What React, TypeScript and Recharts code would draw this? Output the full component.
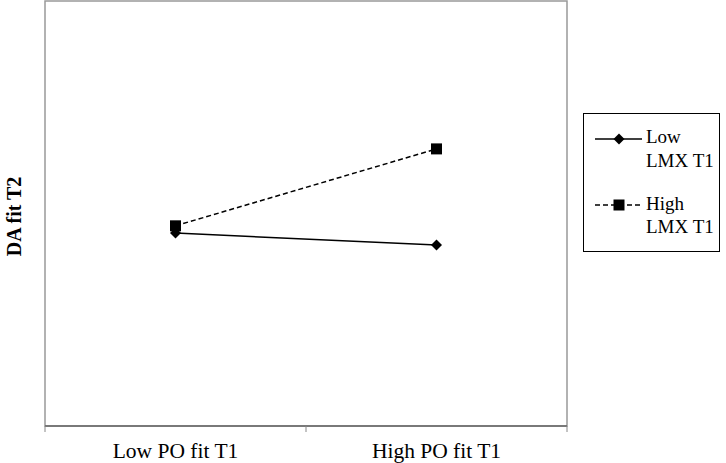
import { LineChart, Line, XAxis, YAxis, ReferenceArea } from "recharts";

const categories = ["Low PO fit T1", "High PO fit T1"];
const lowLmx = [45.4, 42.6];
const highLmx = [47.1, 65.2];
const seriesNames = { low: ["Low", "LMX T1"], high: ["High", "LMX T1"] };

const data = categories.map((c, i) => ({
  x: i + 0.5,
  name: c,
  low: lowLmx[i],
  high: highLmx[i],
}));

const FONT = '"Liberation Serif", "Times New Roman", serif';

const Diamond = ({ cx, cy }: any) =>
  cx == null ? null : (
    <path d={`M${cx},${cy - 5.5} L${cx + 5.5},${cy} L${cx},${cy + 5.5} L${cx - 5.5},${cy} Z`} fill="#000" />
  );

const Square = ({ cx, cy }: any) =>
  cx == null ? null : <rect x={cx - 5.5} y={cy - 5.5} width={11} height={11} fill="#000" />;

const XTick = ({ x, y, payload }: any) => {
  const v = payload.value;
  if (Number.isInteger(v)) {
    return <line x1={x} x2={x} y1={y} y2={y + 6} stroke="#888" strokeWidth={1} />;
  }
  return (
    <text x={x} y={y + 32} textAnchor="middle" fontFamily={FONT} fontSize={21.5} fill="#000">
      {categories[Math.floor(v)]}
    </text>
  );
};

const LegendBox = () => (
  <div
    style={{
      position: "absolute",
      left: 583,
      top: 113,
      width: 137,
      height: 139,
      border: "1px solid #000",
      boxSizing: "border-box",
      background: "#fff",
    }}
  >
    <svg width={137} height={139} style={{ display: "block", marginLeft: -1, marginTop: -1 }}>
      <line x1={12} x2={59} y1={26} y2={26} stroke="#000" strokeWidth={1.5} />
      <Diamond cx={36} cy={26} />
      <text x={63} y={30} fontFamily={FONT} fontSize={19}>{seriesNames.low[0]}</text>
      <text x={63} y={54} fontFamily={FONT} fontSize={19}>{seriesNames.low[1]}</text>
      <line x1={12} x2={59} y1={92} y2={92} stroke="#000" strokeWidth={1.5} strokeDasharray="5 3" />
      <Square cx={36} cy={92} />
      <text x={63} y={97} fontFamily={FONT} fontSize={19}>{seriesNames.high[0]}</text>
      <text x={63} y={120} fontFamily={FONT} fontSize={19}>{seriesNames.high[1]}</text>
    </svg>
  </div>
);

const YLabel = ({ viewBox }: any) => {
  const cy = viewBox.y + viewBox.height / 2 + 3;
  return (
    <text
      x={14}
      y={cy}
      transform={`rotate(-90 14 ${cy})`}
      textAnchor="middle"
      dominantBaseline="central"
      fontFamily={FONT}
      fontWeight="bold"
      fontSize={20}
    >
      DA fit T2
    </text>
  );
};

export default function App() {
  return (
    <div style={{ position: "absolute", left: 0, top: 0, width: 726, height: 463, background: "#fff" }}>
      <LineChart width={726} height={463} data={data} margin={{ top: 1, right: 159, bottom: 0, left: 0 }}>
        <ReferenceArea x1={0} x2={2} y1={0} y2={100} fill="none" stroke="#999" strokeWidth={1.5} />
        <XAxis
          type="number"
          dataKey="x"
          domain={[0, 2]}
          ticks={[0, 0.5, 1, 1.5, 2]}
          interval={0}
          height={37}
          tickLine={false}
          tickSize={0}
          tickMargin={0}
          axisLine={{ stroke: "#666", strokeWidth: 1.5 }}
          tick={<XTick />}
        />
        <YAxis width={45} domain={[0, 100]} tick={false} tickLine={false} axisLine={false} label={<YLabel />} />
        <Line
          dataKey="low"
          stroke="#000"
          strokeWidth={1.5}
          dot={<Diamond />}
          activeDot={false}
          isAnimationActive={false}
        />
        <Line
          dataKey="high"
          stroke="#000"
          strokeWidth={1.5}
          strokeDasharray="5 3"
          dot={<Square />}
          activeDot={false}
          isAnimationActive={false}
        />
      </LineChart>
      <LegendBox />
    </div>
  );
}
